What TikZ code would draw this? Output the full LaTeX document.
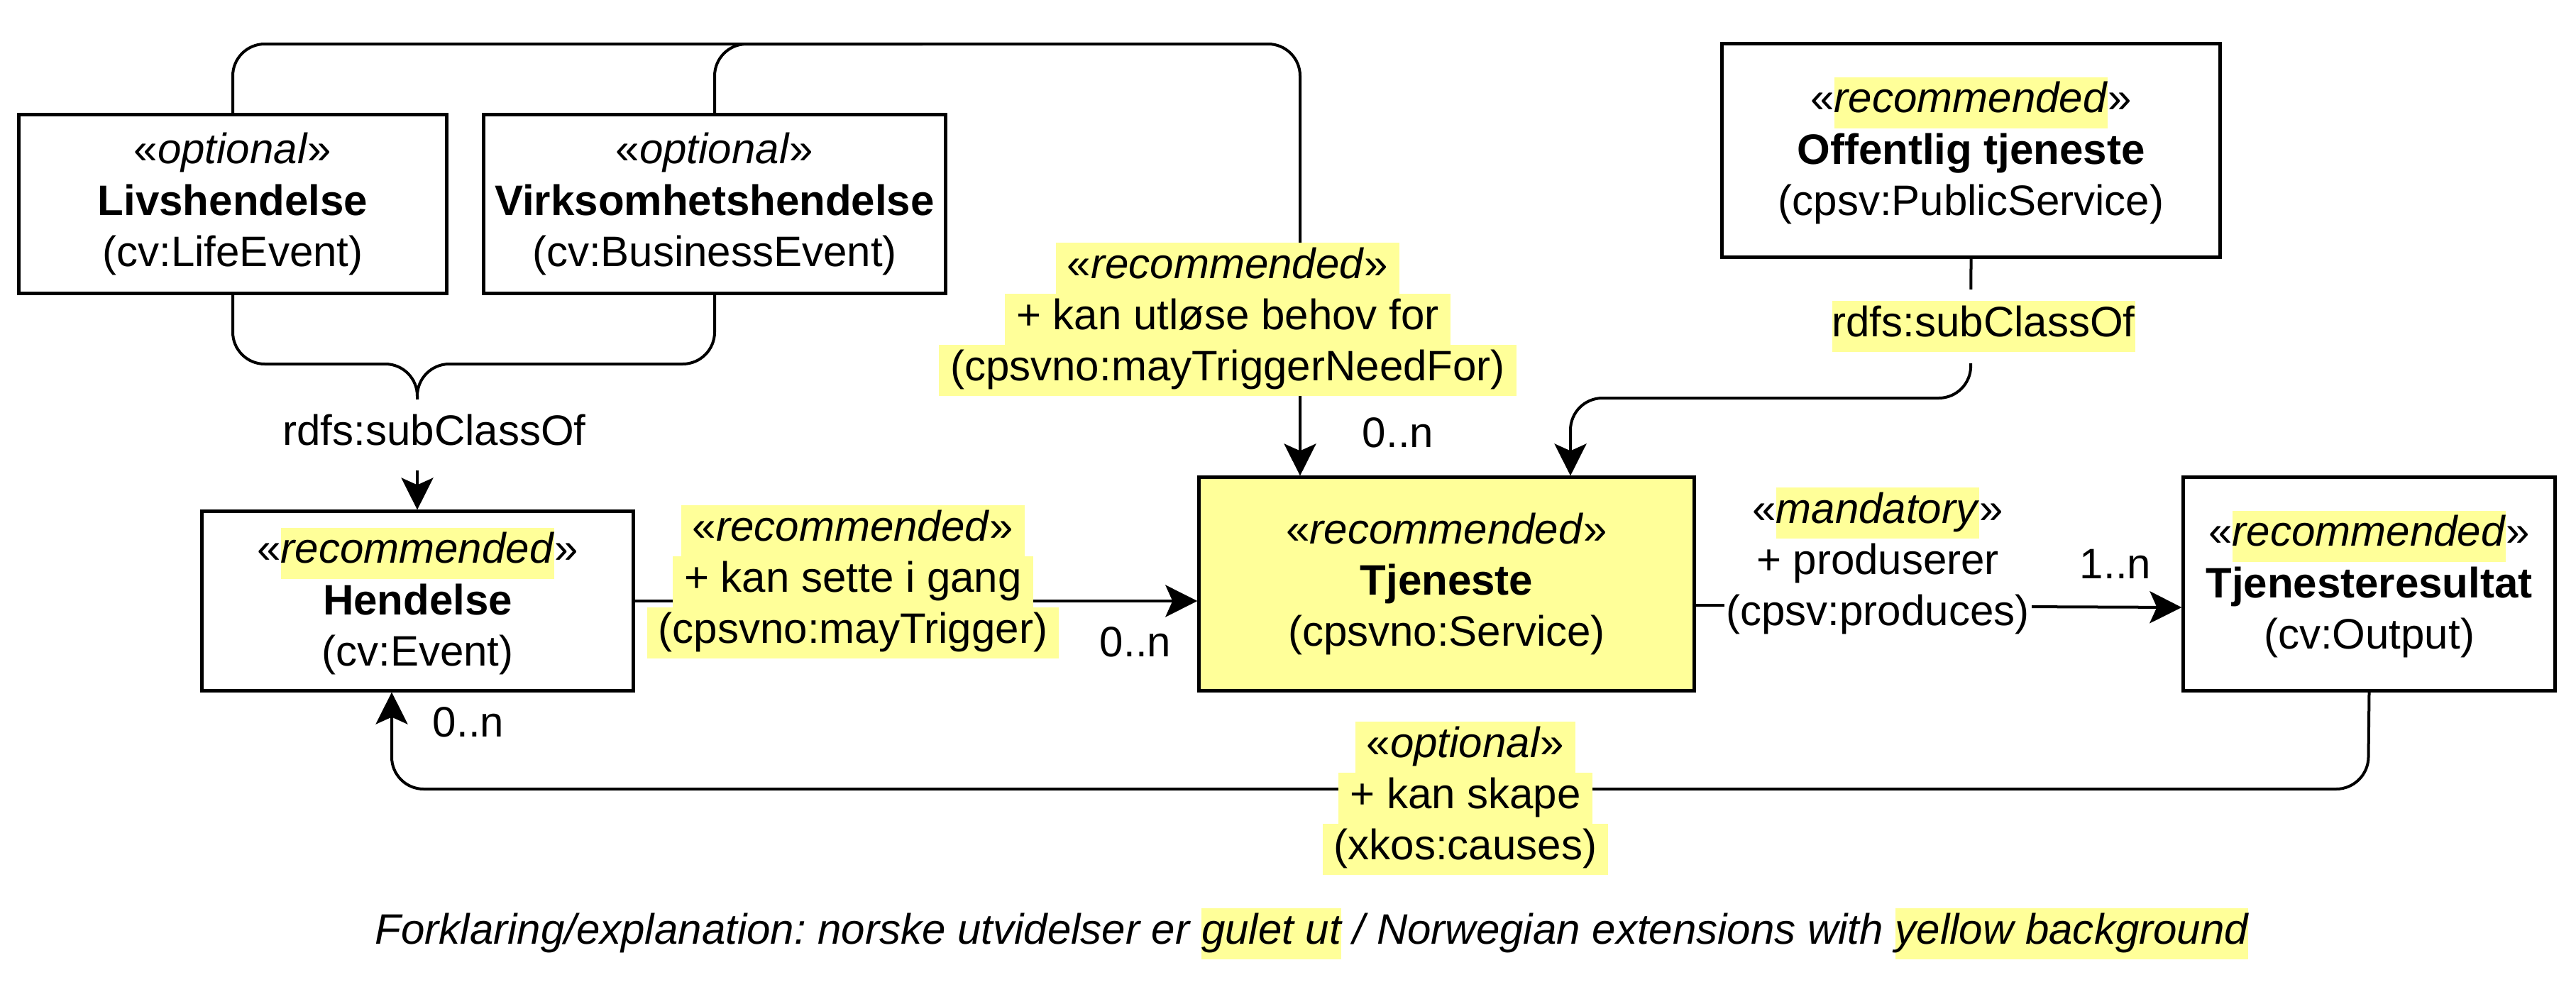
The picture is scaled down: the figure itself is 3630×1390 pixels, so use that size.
\documentclass[tikz,border=0pt]{standalone}
\usepackage{fontspec}
\setmainfont{Liberation Sans}
\usetikzlibrary{arrows.meta}
\frenchspacing

\definecolor{hlyellow}{HTML}{FFFF99}
\newcommand\umlfont{\fontsize{17.07pt}{20.49pt}\selectfont}
\newcommand\hlword[1]{{\fboxsep=0pt\colorbox{hlyellow}{\strut #1}}}
\newcommand\hlline[1]{{\fboxsep=0pt\colorbox{hlyellow}{\strut\hspace{0.16cm}#1\hspace{0.16cm}}}}

\begin{document}
\begin{tikzpicture}[x=0.01cm, y=-0.01cm, font=\umlfont]

\tikzset{class/.style = {draw, line width=0.05cm, align=center, inner sep=0pt, minimum height=3cm}}
\tikzset{conn/.style = {line width=0.04cm}}
\tikzset{arr/.style = {-{Stealth[length=0.45cm, width=0.45cm, inset=0.1cm]}}}
\tikzset{lbl/.style = {align=center, inner sep=0pt}}

\useasboundingbox (0,0) rectangle (3630,1390);

%classes
\node[class, minimum width=6.02cm, minimum height=2.51cm] (liv) at (328,287.5) {«\textit{optional}»\\\textbf{Livshendelse}\\(cv:LifeEvent)};
\node[class, minimum width=6.5cm, minimum height=2.51cm] (virk) at (1007,287.5) {«\textit{optional}»\\\textbf{Virksomhetshendelse}\\(cv:BusinessEvent)};
\node[class, minimum width=6.07cm, minimum height=2.52cm] (hendelse) at (588.5,847) {«\hlword{\textit{recommended}}»\\\textbf{Hendelse}\\(cv:Event)};
\node[class, fill=hlyellow, minimum width=6.97cm] (tjeneste) at (2038.5,823) {«\textit{recommended}»\\\textbf{Tjeneste}\\(cpsvno:Service)};
\node[class, minimum width=5.23cm] (resultat) at (3338.5,823) {«\hlword{\textit{recommended}}»\\\textbf{Tjenesteresultat}\\(cv:Output)};
\node[class, minimum width=7.01cm] (offentlig) at (2777.5,212) {«\hlword{\textit{recommended}}»\\\textbf{Offentlig tjeneste}\\(cpsv:PublicService)};

\coordinate (subjoin) at (588,563);

%connectors
\draw[conn, arr, rounded corners=0.45cm] (liv.north) -- (328,62) -- (1832,62) -- (tjeneste.north -| 1832,0);
\draw[conn, rounded corners=0.45cm] (virk.north) -- (1007,62) -- (1300,62);
\draw[conn, rounded corners=0.45cm] (liv.south) -- (328,513) -- (588,513) -- (subjoin);
\draw[conn, rounded corners=0.45cm] (virk.south) -- (1007,513) -- (588,513) -- (subjoin);
\draw[conn, arr] (subjoin) -- (hendelse.north -| subjoin);
\draw[conn, arr, rounded corners=0.45cm] (offentlig.south) -- (2777,561) -- (2213,561) -- (tjeneste.north -| 2213,0);
\draw[conn, arr] (hendelse.east) -- (tjeneste.west |- hendelse.east);
\draw[conn, arr] (tjeneste.east |- 0,853) -- (resultat.west |- 0,856);
\draw[conn, arr, rounded corners=0.45cm] (resultat.south) -- (3337,1112) -- (552,1112) -- (hendelse.south -| 552,0);

%labels
\node[lbl] (lbltrigger) at (1730,450) {\hlline{«\textit{recommended}»}\\\hlline{+ kan utløse behov for}\\\hlline{(cpsvno:mayTriggerNeedFor)}};
\node[lbl] (lblsett) at (1202,820) {\hlline{«\textit{recommended}»}\\\hlline{+ kan sette i gang}\\\hlline{(cpsvno:mayTrigger)}};
\node[lbl] (lblcause) at (2065,1125) {\hlline{«\textit{optional}»}\\\hlline{+ kan skape}\\\hlline{(xkos:causes)}};
\node[lbl, fill=white, inner xsep=0.03cm] (lblprod) at (2646,795) {«\hlword{\textit{mandatory}}»\\\strut + produserer\\\strut (cpsv:produces)};
\node[lbl, fill=white, inner xsep=0.05cm, inner ysep=0.14cm] (lblsub1) at (612,613) {\strut rdfs:subClassOf};
\node[lbl, fill=white, inner ysep=0.16cm] (lblsub2) at (2795,460) {\hlword{rdfs:subClassOf}};

%multiplicities
\node (multtrigger) at (1970,610) {0..n};
\node (multsett) at (1600,905) {0..n};
\node (multprod) at (2981,795) {1..n};
\node (multcause) at (660,1018) {0..n};

\node[anchor=base west, inner sep=0pt] (legend) at (528,1330) {\textit{Forklaring/explanation: norske utvidelser er \hlword{gulet ut} / Norwegian extensions with \hlword{yellow background}}};

\end{tikzpicture}
\end{document}
